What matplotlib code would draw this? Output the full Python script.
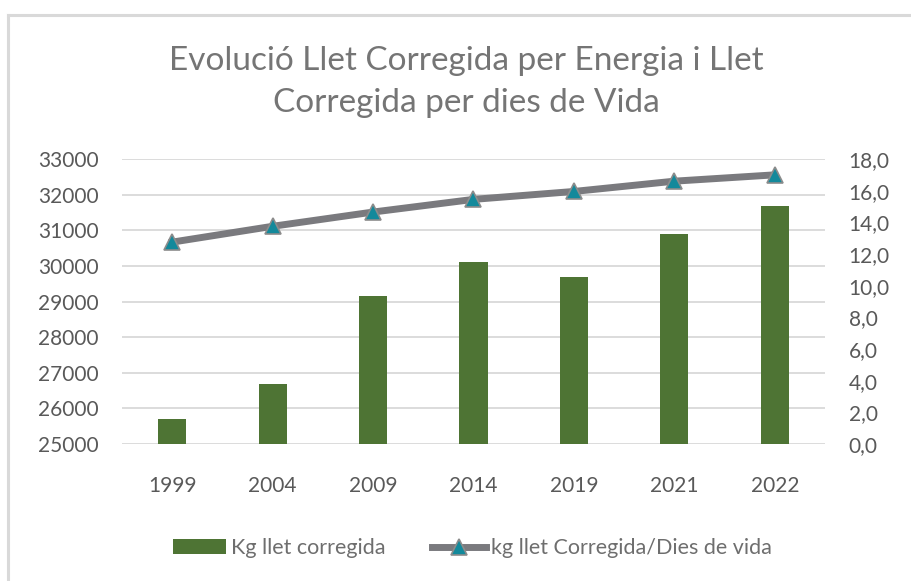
import matplotlib
matplotlib.use("Agg")
import matplotlib.pyplot as plt
from matplotlib.lines import Line2D
from matplotlib.patches import Patch
from matplotlib.ticker import FuncFormatter
import numpy as np

plt.rcParams['font.family'] = ['Lato', 'DejaVu Sans']

years = ["1999", "2004", "2009", "2014", "2019", "2021", "2022"]
kg_llet = [25700, 26690, 29160, 30110, 29690, 30900, 31690]
kg_per_dia = [12.75, 13.75, 14.65, 15.45, 15.95, 16.6, 17.0]
left_ticks = [25000, 26000, 27000, 28000, 29000, 30000, 31000, 32000, 33000]
right_ticks = [0, 2, 4, 6, 8, 10, 12, 14, 16, 18]

title = "Evolució Llet Corregida per Energia i Llet\nCorregida per dies de Vida"
bar_label = "Kg llet corregida"
line_label = "kg llet Corregida/Dies de vida"

W, H = 911, 581
fig = plt.figure(figsize=(W / 100, H / 100), dpi=100)

text_color = "#595959"
grid_color = "#d9d9d9"
bar_color = "#4e7434"
line_color = "#7a7a7e"
marker_color = "#13899b"

# chart border
fig.add_artist(Line2D([8 / W, 8 / W], [0, 1 - 15 / H], color=grid_color, lw=2.2, transform=fig.transFigure))
fig.add_artist(Line2D([8 / W, 1], [1 - 15 / H, 1 - 15 / H], color=grid_color, lw=2.2, transform=fig.transFigure))

left, right, top, bottom = 122, 825, 159, 444
ax = fig.add_axes([left / W, 1 - bottom / H, (right - left) / W, (bottom - top) / H])
x = np.arange(len(years))
ax.bar(x, [v - left_ticks[0] for v in kg_llet], bottom=left_ticks[0], width=0.28, color=bar_color, zorder=2)
ax.set_xlim(-0.5, len(years) - 0.5)
ax.set_ylim(left_ticks[0], left_ticks[-1])
ax.set_yticks(left_ticks)
ax.set_xticks(x)
ax.set_xticklabels(years)
ax.grid(axis='y', color=grid_color, lw=1.3, zorder=0)
ax.set_axisbelow(True)
for s in ax.spines.values():
    s.set_visible(False)
ax.tick_params(axis='both', length=0, labelsize=15, colors=text_color)
ax.tick_params(axis='y', pad=17)
ax.tick_params(axis='x', pad=23)

ax2 = ax.twinx()
ax2.plot(x, kg_per_dia, color=line_color, lw=5, marker='^', markersize=11,
         markerfacecolor=marker_color, markeredgecolor="#8c8c8c", markeredgewidth=1.2, zorder=3)
ax2.set_ylim(right_ticks[0], right_ticks[-1])
ax2.set_yticks(right_ticks)
ax2.yaxis.set_major_formatter(FuncFormatter(lambda v, p: f"{v:.1f}".replace('.', ',')))
for s in ax2.spines.values():
    s.set_visible(False)
ax2.tick_params(axis='y', length=0, labelsize=15, colors=text_color, pad=17)

fig.text(466 / W, 1 - 82 / H, title, ha='center', va='center', fontsize=24,
         color="#757575", linespacing=1.52)

handles = [Patch(facecolor=bar_color, edgecolor='none'),
           Line2D([0], [0], color=line_color, lw=5, marker='^', markersize=11,
                  markerfacecolor=marker_color, markeredgecolor="#8c8c8c", markeredgewidth=1.2)]
leg = fig.legend(handles, [bar_label, line_label], loc='center', bbox_to_anchor=(472 / W, 1 - 548 / H),
                 ncol=2, frameon=False, fontsize=15.5, handlelength=2.5, handleheight=0.65,
                 handletextpad=0.2, columnspacing=2.2, labelcolor="#6e6e6e")

fig.savefig("out.png", dpi=100)
